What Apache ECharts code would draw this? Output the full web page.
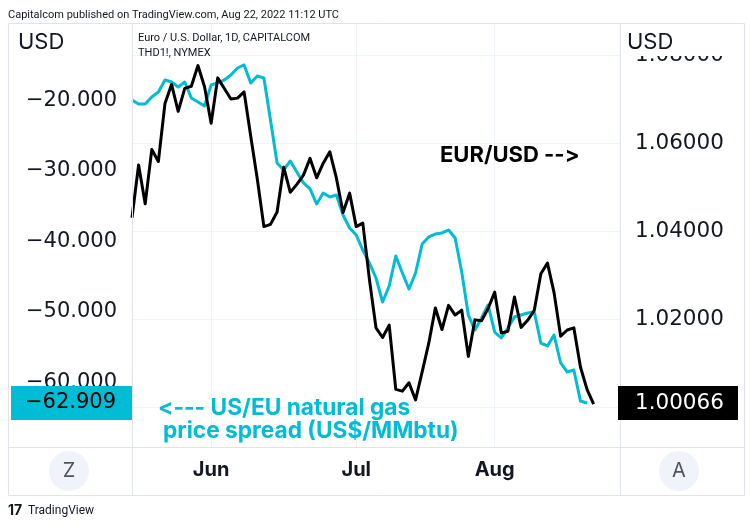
<!DOCTYPE html>
<html>
<head>
<meta charset="utf-8">
<script src="https://cdn.jsdelivr.net/npm/echarts@6/dist/echarts.min.js"></script>
<style>
html,body{margin:0;padding:0;background:#fff;}
#chart{width:750px;height:526px;}
</style>
</head>
<body>
<div id="chart"></div>
<script>
// ---------- DATA ----------
const dates = [
  '2022-05-16','2022-05-17','2022-05-18','2022-05-19','2022-05-20','2022-05-23','2022-05-24','2022-05-25','2022-05-26','2022-05-27','2022-05-30','2022-05-31',
  '2022-06-01','2022-06-02','2022-06-03','2022-06-06','2022-06-07','2022-06-08','2022-06-09','2022-06-10','2022-06-13','2022-06-14','2022-06-15','2022-06-16','2022-06-17','2022-06-20','2022-06-21','2022-06-22','2022-06-23','2022-06-24','2022-06-27','2022-06-28','2022-06-29','2022-06-30',
  '2022-07-01','2022-07-04','2022-07-05','2022-07-06','2022-07-07','2022-07-08','2022-07-11','2022-07-12','2022-07-13','2022-07-14','2022-07-15','2022-07-18','2022-07-19','2022-07-20','2022-07-21','2022-07-22','2022-07-25','2022-07-26','2022-07-27','2022-07-28','2022-07-29',
  '2022-08-01','2022-08-02','2022-08-03','2022-08-04','2022-08-05','2022-08-08','2022-08-09','2022-08-10','2022-08-11','2022-08-12','2022-08-15','2022-08-16','2022-08-17','2022-08-18','2022-08-19','2022-08-22',
  '2022-08-23','2022-08-24','2022-08-25','2022-08-26'
];
// EUR/USD daily close (right axis)
const eurusd = [
  1.0430,1.0550,1.0462,1.0585,1.0558,1.0690,1.0733,1.0672,1.0724,1.0729,1.0776,1.0728,
  1.0645,1.0748,1.0724,1.0700,1.0702,1.0716,1.0616,1.0518,1.0410,1.0415,1.0443,1.0545,1.0488,1.0506,1.0527,1.0565,1.0521,1.0554,1.0580,1.0520,1.0442,1.0486,
  1.0410,1.0418,1.0290,1.0180,1.0158,1.0186,1.0040,1.0036,1.0055,1.0016,1.0080,1.0145,1.0225,1.0176,1.0231,1.0209,1.0220,1.0115,1.0198,1.0196,1.0224,
  1.0261,1.0168,1.0172,1.0250,1.0181,1.0197,1.0220,1.0303,1.0327,1.0260,1.0161,1.0175,1.0180,1.0091,1.0040,1.00066
];
// US/EU natural gas price spread, US$/MMbtu (left axis)
const gasSpread = [
  -19.93,-20.50,-20.50,-19.50,-18.79,-17.09,-17.38,-18.09,-17.38,-19.65,-20.21,-20.78,
  -17.80,-17.52,-17.09,-16.38,-15.39,-14.96,-17.52,-16.52,-16.81,-22.77,-28.87,-29.86,-28.58,-30.14,-31.70,-32.55,-34.68,-33.12,-33.69,-33.40,-36.24,-38.09,
  -39.08,-41.21,-43.05,-45.18,-48.58,-46.31,-42.06,-44.47,-46.74,-44.47,-40.35,-39.36,-38.94,-38.79,-38.37,-39.50,-44.33,-50.43,-52.55,-50.85,-49.01,
  -52.84,-53.69,-52.27,-50.71,-50.43,-50.14,-50.00,-54.40,-54.82,-53.26,-57.23,-58.51,-58.23,-62.62,-62.909
];
const monthTickDates = ['2022-06-01','2022-07-01','2022-08-01'];
const monthTickLabels = ['Jun','Jul','Aug'];
const leftTicks = [-60,-50,-40,-30,-20];
const rightTicks = [1.00,1.02,1.04,1.06,1.08];

// ---------- CHART ----------
const W = 750, H = 526;
const plotL = 132, plotR = 620, plotT = 24, plotB = 447;
const CYAN = '#00bcd4', INK = '#131722', FRAME = '#e0e3eb', GRID = '#f0f3fa';
const FONT = 'Inter, Roboto, "Noto Sans", sans-serif';
const NUMFONT = '"DejaVu Sans", Inter, sans-serif';
const SMALLFONT = 'Roboto, Inter, sans-serif';
const ZW = '\u200C'; // break font ligatures in arrows

const rPxPerUnit = 4400, r100Y = 407;             // right axis: 1.00 at y=407
const lPxPerUnit = 7.05, lm20Y = 100.5;           // left axis: -20 at y=100.5
const rMax = 1 + (r100Y - plotT) / rPxPerUnit;
const rMin = 1 - (plotB - r100Y) / rPxPerUnit;
const lMax = -20 + (lm20Y - plotT) / lPxPerUnit;
const lMin = -20 - (plotB - lm20Y) / lPxPerUnit;
const yOf = v => r100Y - (v - 1) * rPxPerUnit;
const yOfL = v => lm20Y - (v + 20) * lPxPerUnit;

const fmtL = v => (v < 0 ? '\u2212' : '') + Math.abs(v).toFixed(3);
const fmtR = v => v.toFixed(5);
const isMonth = (i, v) => monthTickDates.indexOf(v) >= 0;

const lastGas = gasSpread[gasSpread.length - 1];
const lastEur = eurusd[eurusd.length - 1];

const chart = echarts.init(document.getElementById('chart'), null, {renderer: 'canvas'});

const overlay = [
  {type:'rect', shape:{x:8.5, y:23.5, width:736, height:472}, style:{fill:'none', stroke:FRAME, lineWidth:1}, z:50, silent:true},
  {type:'line', shape:{x1:plotL+0.5, y1:23.5, x2:plotL+0.5, y2:495.5}, style:{stroke:FRAME, lineWidth:1}, z:50},
  {type:'line', shape:{x1:plotR+0.5, y1:23.5, x2:plotR+0.5, y2:495.5}, style:{stroke:FRAME, lineWidth:1}, z:50},
  {type:'line', shape:{x1:8.5, y1:plotB+0.5, x2:744.5, y2:plotB+0.5}, style:{stroke:FRAME, lineWidth:1}, z:50},
  {type:'text', x:8, y:15, style:{text:'Capitalcom published on TradingView.com, Aug 22, 2022 11:12 UTC', font:'11px ' + SMALLFONT, fill:INK, verticalAlign:'middle'}, z:60},
  {type:'text', x:138, y:38, style:{text:'Euro / U.S. Dollar, 1D, CAPITALCOM', font:'11px ' + SMALLFONT, fill:INK, verticalAlign:'middle'}, z:60},
  {type:'text', x:138, y:53, style:{text:'THD1!, NYMEX', font:'11px ' + SMALLFONT, fill:INK, verticalAlign:'middle'}, z:60},
  {type:'text', x:18, y:42, style:{text:'USD', font:'22px ' + FONT, fill:INK, verticalAlign:'middle'}, z:60},
  {type:'rect', shape:{x:plotR+1, y:24, width:123, height:32}, style:{fill:'#fff'}, z:55},
  {type:'text', x:627, y:42, style:{text:'USD', font:'22px ' + FONT, fill:INK, verticalAlign:'middle'}, z:60},
  {type:'rect', shape:{x:11, y:386, width:121, height:34}, style:{fill:CYAN}, z:55},
  {type:'text', x:116, y:403, style:{text:fmtL(lastGas), font:'21px ' + NUMFONT, fill:'#000', align:'right', verticalAlign:'middle'}, z:60},
  {type:'rect', shape:{x:618, y:386, width:120, height:34}, style:{fill:'#000'}, z:55},
  {type:'text', x:635, y:403, style:{text:fmtR(lastEur), font:'21.5px ' + NUMFONT, fill:'#fff', verticalAlign:'middle'}, z:60},
  {type:'text', x:440, y:155, style:{text:'EUR/USD -' + ZW + '-' + ZW + '>', font:'bold 22px ' + FONT, fill:'#000', verticalAlign:'middle'}, z:60},
  {type:'text', x:158, y:408, style:{text:'<' + ZW + '-' + ZW + '-' + ZW + '- US/EU natural gas', font:'bold 22.7px ' + FONT, fill:CYAN, verticalAlign:'middle'}, z:60},
  {type:'text', x:163, y:431, style:{text:'price spread (US$/MMbtu)', font:'bold 22.7px ' + FONT, fill:CYAN, verticalAlign:'middle'}, z:60},
  {type:'circle', shape:{cx:69, cy:471, r:20}, style:{fill:'#f0f3fa'}, z:55},
  {type:'text', x:69, y:471, style:{text:'Z', font:'20px ' + FONT, fill:'#50535e', align:'center', verticalAlign:'middle'}, z:60},
  {type:'circle', shape:{cx:679, cy:471, r:20}, style:{fill:'#f0f3fa'}, z:55},
  {type:'text', x:679, y:471, style:{text:'A', font:'20px ' + FONT, fill:'#50535e', align:'center', verticalAlign:'middle'}, z:60},
  {type:'text', x:8, y:511, style:{text:'17', font:'bold 14px ' + FONT, fill:INK, verticalAlign:'middle'}, z:60},
  {type:'text', x:28, y:511, style:{text:'TradingView', font:'12px ' + SMALLFONT, fill:INK, verticalAlign:'middle'}, z:60}
];

const option = {
  backgroundColor: '#fff',
  animation: false,
  grid: [
    {left: plotL, right: W - plotR, top: plotT, bottom: H - plotB},
    {left: plotL, right: W - plotR, top: yOf(rightTicks[rightTicks.length-1]), bottom: H - yOf(rightTicks[0])},
    {left: plotL, right: W - plotR, top: yOfL(leftTicks[leftTicks.length-1]), bottom: H - yOfL(leftTicks[0])}
  ],
  xAxis: [
    {
      gridIndex: 0, type: 'category', data: dates, boundaryGap: false,
      axisLine: {show: false}, axisTick: {show: false},
      axisLabel: {
        interval: isMonth,
        formatter: v => monthTickLabels[monthTickDates.indexOf(v)] || '',
        fontFamily: FONT, fontSize: 20, fontWeight: 'bold', color: INK, margin: 13
      },
      splitLine: {show: true, interval: isMonth, lineStyle: {color: GRID, width: 1}}
    },
    {gridIndex: 1, type: 'value', min: 0, max: 1, show: false},
    {gridIndex: 2, type: 'value', min: 0, max: 1, show: false}
  ],
  yAxis: [
    {gridIndex: 0, type: 'value', position: 'right', min: rMin, max: rMax, show: false, splitLine: {show: false}},
    {gridIndex: 0, type: 'value', position: 'left', min: lMin, max: lMax, show: false, splitLine: {show: false}},
    {
      gridIndex: 1, type: 'value', position: 'right',
      min: rightTicks[0], max: rightTicks[rightTicks.length-1], interval: 0.02,
      axisLine: {show: false}, axisTick: {show: false},
      axisLabel: {formatter: fmtR, fontFamily: NUMFONT, fontSize: 21.5, color: INK, margin: 15},
      splitLine: {show: true, lineStyle: {color: GRID, width: 1}}
    },
    {
      gridIndex: 2, type: 'value', position: 'left',
      min: leftTicks[0], max: leftTicks[leftTicks.length-1], interval: 10,
      axisLine: {show: false}, axisTick: {show: false},
      axisLabel: {formatter: fmtL, fontFamily: NUMFONT, fontSize: 21, color: INK, margin: 15},
      splitLine: {show: false}
    }
  ],
  series: [
    {
      name: 'US/EU natural gas price spread', type: 'line', xAxisIndex: 0, yAxisIndex: 1,
      data: gasSpread, showSymbol: false, symbol: 'none',
      lineStyle: {color: CYAN, width: 3, join: 'round'}, z: 3
    },
    {
      name: 'EUR/USD', type: 'line', xAxisIndex: 0, yAxisIndex: 0,
      data: eurusd, showSymbol: false, symbol: 'none',
      lineStyle: {color: '#000', width: 3, join: 'round'}, z: 4
    }
  ],
  graphic: overlay
};
chart.setOption(option);
</script>
</body>
</html>
